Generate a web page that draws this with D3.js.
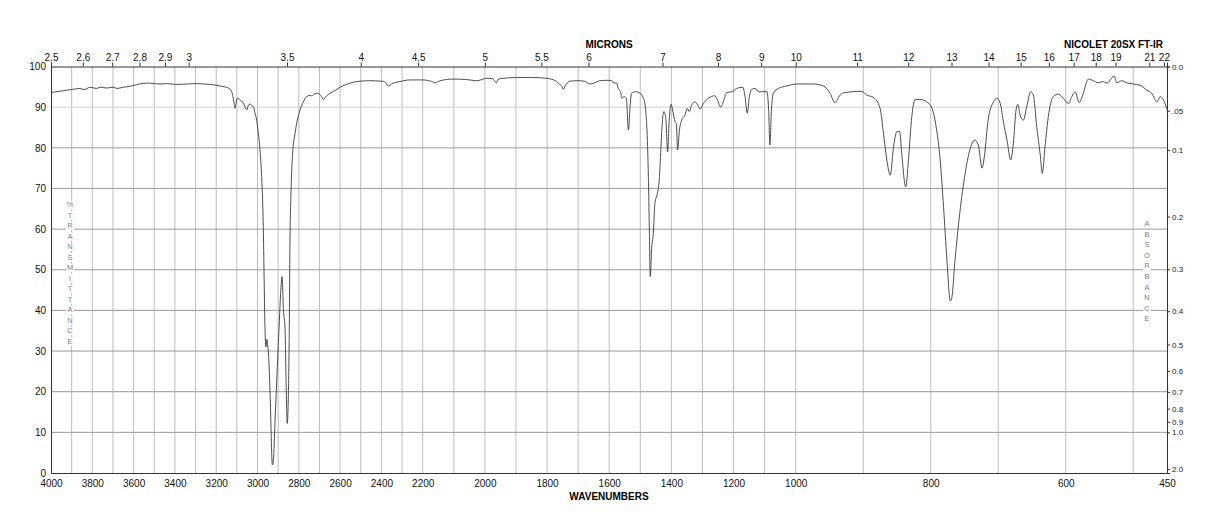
<!DOCTYPE html>
<html>
<head>
<meta charset="utf-8">
<script src="https://cdn.jsdelivr.net/npm/d3@7"></script>
<style>
  body { margin: 0; background: #fff; }
  svg text { font-family: "Liberation Sans", Arial, Helvetica, sans-serif; }
</style>
</head>
<body>
<script>
// spectrum: wavenumber (cm-1) and % transmittance
const wavenumbers = [
  4000, 3960, 3920, 3892, 3860, 3840, 3811, 3780, 3760, 3730, 3700, 3680, 3650, 3620, 3603, 3570,
  3537, 3500, 3472, 3440, 3400, 3375, 3340, 3295, 3260, 3230, 3200, 3182, 3160, 3141, 3125, 3115,
  3109, 3102, 3098, 3085, 3069, 3060, 3052, 3044, 3036, 3026, 3020, 3012, 3004, 2996, 2988, 2980,
  2972, 2968, 2964, 2959, 2955, 2951, 2948, 2939, 2928, 2923, 2915, 2904, 2894, 2888, 2881, 2877,
  2875, 2867, 2862, 2856, 2851, 2846, 2843, 2838, 2830, 2818, 2807, 2794, 2778, 2762, 2745, 2738,
  2722, 2706, 2690, 2681, 2665, 2649, 2620, 2600, 2575, 2552, 2504, 2450, 2407, 2385, 2366, 2350,
  2330, 2310, 2261, 2200, 2171, 2160, 2144, 2102, 2060, 2026, 1994, 1975, 1963, 1958, 1950, 1898,
  1850, 1801, 1769, 1758, 1753, 1748, 1742, 1726, 1700, 1680, 1662, 1650, 1630, 1608, 1592, 1587,
  1576, 1571, 1563, 1560, 1552, 1545, 1538, 1533, 1528, 1517, 1501, 1488, 1479, 1474, 1471, 1468,
  1463, 1458, 1453, 1445, 1439, 1433, 1429, 1424, 1418, 1412, 1407, 1401, 1396, 1388, 1384, 1380,
  1374, 1367, 1356, 1349, 1342, 1335, 1324, 1315, 1308, 1297, 1281, 1260, 1252, 1241, 1231, 1222,
  1205, 1190, 1170, 1163, 1156, 1149, 1141, 1131, 1120, 1093, 1087, 1083, 1078, 1072, 1056, 1029,
  998, 974, 959, 949, 942, 934, 927, 902, 895, 885, 875, 870, 865, 860, 855, 850,
  846, 843, 837, 833, 828, 823, 816, 806, 799, 792, 786, 781, 776, 771, 769, 764,
  757, 749, 742, 735, 729.5, 724, 720, 715, 707, 702, 697, 692, 687, 681.5, 677.6, 673.6,
  671, 667.7, 662.8, 657.8, 652, 648, 643, 638, 634.7, 630.7, 625.8, 618.4, 611, 603.6, 596, 591,
  586, 580, 574, 566.5, 559, 552, 545, 539, 532, 528.4, 524.4, 517, 510, 500, 490, 480,
  472.6, 465, 460, 455.4, 450
];
const transmittance = [
  93.6, 93.9, 94.2, 94.4, 94.6, 94.3, 94.9, 94.6, 94.9, 94.7, 94.9, 94.6, 94.9, 95.1, 95.3, 95.7,
  95.9, 95.8, 95.7, 95.8, 95.6, 95.6, 95.7, 95.8, 95.7, 95.6, 95.4, 95.2, 95.0, 94.7, 93.8, 91.5,
  89.7, 91.5, 92.2, 91.8, 91.0, 90.0, 89.3, 90.5, 90.8, 90.3, 90.1, 88.5, 86.8, 83.6, 79.5, 72.9,
  60.6, 48.3, 36.0, 31.0, 32.9, 31.5, 30.3, 19.6, 2.0, 3.2, 13.0, 26.1, 37.6, 44.2, 48.3, 44.0,
  40.5, 36.0, 23.7, 12.2, 18.0, 36.0, 55.7, 68.8, 78.6, 83.6, 86.8, 89.3, 91.3, 92.6, 92.9, 92.8,
  93.3, 93.4, 92.6, 91.9, 92.8, 93.4, 94.2, 94.9, 95.5, 95.9, 96.4, 96.5, 96.4, 96.3, 95.2, 95.7,
  96.1, 96.3, 96.7, 96.7, 96.3, 96.0, 96.5, 96.9, 96.8, 96.5, 97.1, 97.0, 96.0, 96.8, 97.0, 97.3,
  97.3, 97.1, 96.3, 95.5, 95.2, 94.4, 95.2, 96.4, 96.5, 96.4, 95.7, 95.9, 96.5, 96.6, 96.5, 96.0,
  95.9, 94.6, 93.8, 92.2, 92.6, 92.2, 84.4, 90.0, 93.4, 93.8, 93.4, 91.8, 85.2, 72.9, 60.6, 48.3,
  55.7, 59.0, 66.3, 68.8, 72.1, 81.1, 86.4, 88.9, 87.3, 79.0, 86.8, 90.7, 89.3, 86.4, 86.0, 79.5,
  84.4, 86.8, 88.1, 89.7, 88.9, 90.5, 91.3, 90.5, 89.5, 90.9, 92.2, 92.8, 91.8, 90.0, 91.8, 93.6,
  93.8, 94.6, 94.9, 92.6, 88.5, 92.6, 94.4, 94.6, 93.8, 93.8, 89.3, 80.7, 89.3, 93.4, 94.6, 95.2,
  95.7, 95.7, 95.2, 93.4, 91.1, 93.0, 93.6, 93.9, 93.0, 92.4, 89.7, 83.6, 77.0, 73.3, 80.3, 84.0,
  84.0, 78.6, 70.4, 77.0, 87.7, 91.9, 91.9, 91.3, 90.1, 85.2, 77.0, 65.5, 52.4, 42.3, 42.9, 52.4,
  63.9, 73.7, 79.5, 81.9, 80.7, 75.0, 78.6, 86.8, 91.3, 92.2, 90.9, 86.0, 81.9, 77.0, 81.1, 89.3,
  90.7, 88.1, 86.8, 90.1, 93.8, 93.0, 85.2, 78.6, 73.7, 80.3, 87.7, 92.6, 93.2, 92.2, 90.9, 92.6,
  93.8, 91.1, 93.4, 96.9, 96.5, 96.0, 96.3, 95.9, 97.1, 97.7, 96.0, 96.5, 96.0, 95.7, 95.4, 94.2,
  93.4, 91.3, 92.6, 91.8, 89.5
];

// axis labels
const wnTicks = [4000, 3800, 3600, 3400, 3200, 3000, 2800, 2600, 2400, 2200, 2000, 1800, 1600, 1400, 1200, 1000, 800, 600, 450];
const micronTicks = [2.5, 2.6, 2.7, 2.8, 2.9, 3, 3.5, 4, 4.5, 5, 5.5, 6, 7, 8, 9, 10, 11, 12, 13, 14, 15, 16, 17, 18, 19, 21, 22];
const transTicks = [0, 10, 20, 30, 40, 50, 60, 70, 80, 90, 100];
const absTicks = [0, 0.05, 0.1, 0.2, 0.3, 0.4, 0.5, 0.6, 0.7, 0.8, 0.9, 1.0, 2.0];
const absLabels = ["0.0", ".05", "0.1", "0.2", "0.3", "0.4", "0.5", "0.6", "0.7", "0.8", "0.9", "1.0", "2.0"];

const w = 1218;
const h = 528;

// the chart is printed in three linear pieces: 4000-2200, 2200-1000, 1000-450
const xScale = d3.scaleLinear()
  .domain([4000, 2200, 1000, 450])
  .range([51, 422.7, 795.7, 1167]);

const yScale = d3.scaleLinear()
  .domain([0, 100])
  .range([473, 66.5]);

const svg = d3.select('body')
  .append('svg')
  .attr('width', w)
  .attr('height', h)
  .style('background', '#fff');

// grid
const vGrid = d3.range(3900, 450, -100);
svg.append('g')
  .selectAll('line')
  .data(vGrid)
  .enter()
  .append('line')
  .attr('x1', d => xScale(d))
  .attr('x2', d => xScale(d))
  .attr('y1', yScale(100))
  .attr('y2', yScale(0))
  .attr('stroke', '#bdbdbd')
  .attr('stroke-width', 1);

svg.append('g')
  .selectAll('line')
  .data(d3.range(10, 100, 10))
  .enter()
  .append('line')
  .attr('x1', xScale(4000))
  .attr('x2', xScale(450))
  .attr('y1', d => yScale(d))
  .attr('y2', d => yScale(d))
  .attr('stroke', d => d === 90 ? '#cfcfcf' : '#999')
  .attr('stroke-width', 1);

// stacked letters on both sides
function stackedText(str, x, y0, step) {
  const g = svg.append('g');
  str.split('').forEach((c, i) => {
    g.append('rect')
      .attr('x', x - 4)
      .attr('y', y0 + i * step - 6)
      .attr('width', 8)
      .attr('height', 8)
      .attr('fill', '#fff');
    g.append('text')
      .attr('x', x)
      .attr('y', y0 + i * step)
      .attr('text-anchor', 'middle')
      .attr('font-size', '7.5px')
      .attr('fill', '#808080')
      .text(c);
  });
}
stackedText('%TRANSMITTANCE', 70, 207, 10.5);
stackedText('ABSORBANCE', 1147, 226, 10.6);

// spectrum
const points = wavenumbers.map((d, i) => [d, transmittance[i]]);
const line = d3.line()
  .x(d => xScale(d[0]))
  .y(d => yScale(d[1]))
  .curve(d3.curveMonotoneX);

svg.append('path')
  .datum(points)
  .attr('d', line)
  .attr('fill', 'none')
  .attr('stroke', '#3a3a3a')
  .attr('stroke-width', 0.9);

// axes
const bottomAxis = d3.axisBottom(xScale)
  .tickValues(wnTicks)
  .tickSize(0)
  .tickPadding(7)
  .tickFormat(d3.format('d'));

svg.append('g')
  .attr('transform', 'translate(0,' + yScale(0) + ')')
  .call(bottomAxis)
  .call(g => g.selectAll('text').attr('font-size', '10px').attr('fill', '#111'))
  .call(g => g.select('.domain').attr('stroke', '#333'));

const topAxis = d3.axisTop(xScale)
  .tickValues(micronTicks.map(m => 10000 / m))
  .tickSize(4)
  .tickPadding(2)
  .tickFormat((d, i) => micronTicks[i]);

svg.append('g')
  .attr('transform', 'translate(0,' + yScale(100) + ')')
  .call(topAxis)
  .call(g => g.selectAll('text').attr('font-size', '10px').attr('fill', '#111'))
  .call(g => g.selectAll('.tick line').attr('stroke', '#333'))
  .call(g => g.select('.domain').attr('stroke', '#333'));

const leftAxis = d3.axisLeft(yScale)
  .tickValues(transTicks)
  .tickSize(0)
  .tickPadding(5);

svg.append('g')
  .attr('transform', 'translate(' + xScale(4000) + ',0)')
  .call(leftAxis)
  .call(g => g.selectAll('text').attr('font-size', '10px').attr('fill', '#111'))
  .call(g => g.select('.domain').attr('stroke', '#333'));

const rightAxis = d3.axisRight(yScale)
  .tickValues(absTicks.map(a => 100 * Math.pow(10, -a)))
  .tickSize(3)
  .tickPadding(2)
  .tickFormat((d, i) => absLabels[i]);

svg.append('g')
  .attr('transform', 'translate(' + xScale(450) + ',0)')
  .call(rightAxis)
  .call(g => g.selectAll('text').attr('font-size', '8px').attr('fill', '#222'))
  .call(g => g.selectAll('.tick line').attr('stroke', '#333'))
  .call(g => g.select('.domain').attr('stroke', '#333'));

// titles
svg.append('text')
  .attr('x', 609)
  .attr('y', 48)
  .attr('text-anchor', 'middle')
  .attr('font-size', '10px')
  .attr('font-weight', 'bold')
  .text('MICRONS');

svg.append('text')
  .attr('x', 1163)
  .attr('y', 48)
  .attr('text-anchor', 'end')
  .attr('font-size', '10px')
  .attr('font-weight', 'bold')
  .text('NICOLET 20SX FT-IR');

svg.append('text')
  .attr('x', 609)
  .attr('y', 500)
  .attr('text-anchor', 'middle')
  .attr('font-size', '10px')
  .attr('font-weight', 'bold')
  .text('WAVENUMBERS');
</script>
</body>
</html>
